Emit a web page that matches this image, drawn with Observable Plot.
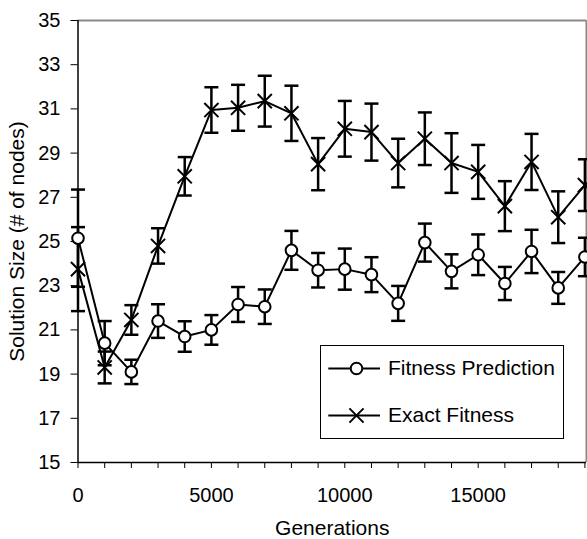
<!DOCTYPE html>
<html><head><meta charset="utf-8">
<script src="https://cdn.jsdelivr.net/npm/d3@7"></script>
<script src="https://cdn.jsdelivr.net/npm/@observablehq/plot@0.6"></script>
<style>
html,body{margin:0;padding:0;background:#fff;}
#wrap{position:relative;width:587px;height:539px;font-family:"Liberation Sans",Arial,sans-serif;}
#legend{position:absolute;left:320px;top:345px;width:244px;height:94px;box-sizing:border-box;border:1px solid #000;background:#fff;}
.row{position:absolute;left:0;width:240px;height:30px;}
.row svg{position:absolute;left:0;top:0;}
.row span{position:absolute;left:67px;top:0;line-height:30px;font-size:21px;color:#000;white-space:nowrap;}
</style></head><body><div id="wrap"></div>
<script>
const generations = [0,1000,2000,3000,4000,5000,6000,7000,8000,9000,10000,11000,12000,13000,14000,15000,16000,17000,18000,19000];
const predMean  = [25.15,20.4,19.1,21.4,20.7,21.0,22.15,22.05,24.6,23.7,23.75,23.5,22.2,24.95,23.65,24.4,23.1,24.55,22.9,24.3];
const predErr   = [2.2,1.0,0.55,0.76,0.69,0.67,0.79,0.78,0.88,0.78,0.93,0.79,0.79,0.86,0.77,0.92,0.75,0.98,0.72,0.87];
const exactMean = [23.75,19.3,21.45,24.8,27.95,30.95,31.05,31.35,30.8,28.5,30.1,29.95,28.55,29.65,28.55,28.15,26.6,28.6,26.1,27.55];
const exactErr  = [1.9,0.72,0.67,0.8,0.87,1.03,1.04,1.15,1.25,1.18,1.26,1.29,1.1,1.19,1.35,1.22,1.13,1.27,1.17,1.17];
const seriesNames = ["Fitness Prediction","Exact Fitness"];
const yTicks = [15,17,19,21,23,25,27,29,31,33,35];
const xLabelTicks = [0,5000,10000,15000];
const xMinorTicks = generations;
const xDomain = [0,19060];
const yDomain = [15,35];
const xTitle = "Generations";
const yTitle = "Solution Size (# of nodes)";

const pred = generations.map((g,i)=>({series:seriesNames[0], g, v:predMean[i], e:predErr[i]}));
const exact = generations.map((g,i)=>({series:seriesNames[1], g, v:exactMean[i], e:exactErr[i]}));
const rows = pred.concat(exact);

const capSymbol = {draw(ctx){ ctx.moveTo(-7,0); ctx.lineTo(7,0); }};
const font = "'Liberation Sans', Arial, sans-serif";

const chart = Plot.plot({
  width: 587, height: 539,
  marginLeft: 77.5, marginRight: 1, marginTop: 20, marginBottom: 77,
  style: {fontFamily: font, fontSize: "20px", color: "#000", background: "#fff"},
  x: {domain: xDomain},
  y: {domain: yDomain},
  marks: [
    Plot.ruleY([yDomain[1]], {stroke: "#8a8a8a", strokeWidth: 2}),
    Plot.ruleX([xDomain[1]], {stroke: "#8a8a8a", strokeWidth: 2}),
    Plot.ruleX([xDomain[0]], {stroke: "#000", strokeWidth: 1.5}),
    Plot.ruleY([yDomain[0]], {stroke: "#000", strokeWidth: 1.5}),
    Plot.axisY({ticks: yTicks, tickSize: 7, tickPadding: 10.5, fontSize: 20, label: null, stroke: "#000"}),
    Plot.axisX({ticks: xMinorTicks, tickSize: 6, tickFormat: () => "", label: null, stroke: "#000"}),
    Plot.axisX({ticks: xLabelTicks, tickSize: 0, tickPadding: 24.8, fontSize: 20, label: null, tickFormat: d3.format("d")}),
    Plot.text([xTitle], {frameAnchor: "bottom", textAnchor: "middle", lineAnchor: "bottom", dy: 72.5, fontSize: 21, fill: "#000"}),
    Plot.text([yTitle], {frameAnchor: "left", textAnchor: "middle", lineAnchor: "middle", rotate: -90, dx: -61, fontSize: 21, fill: "#000"}),
    Plot.line(rows, {x: "g", y: "v", z: "series", stroke: "#000", strokeWidth: 2}),
    Plot.ruleX(rows, {x: "g", y1: d => d.v - d.e, y2: d => d.v + d.e, stroke: "#000", strokeWidth: 2.5}),
    Plot.dot(rows, {x: "g", y: d => d.v + d.e, symbol: capSymbol, r: 5, fill: "none", stroke: "#000", strokeWidth: 2.5}),
    Plot.dot(rows, {x: "g", y: d => d.v - d.e, symbol: capSymbol, r: 5, fill: "none", stroke: "#000", strokeWidth: 2.5}),
    Plot.dot(exact, {x: "g", y: "v", symbol: "times", r: 6.5, stroke: "#000", strokeWidth: 2}),
    Plot.dot(pred, {x: "g", y: "v", symbol: "circle", r: 5.8, fill: "#fff", stroke: "#000", strokeWidth: 2})
  ]
});
const wrap = document.getElementById("wrap");
wrap.appendChild(chart);

const legend = document.createElement("div");
legend.id = "legend";
const symbols = ["circle","times"];
const rowCenters = [22.3, 69];
seriesNames.forEach((name, i) => {
  const row = document.createElement("div");
  row.className = "row";
  row.style.top = (rowCenters[i] - 15) + "px";
  const sw = Plot.plot({
    width: 62, height: 30, margin: 0,
    x: {domain: [0, 62], axis: null}, y: {domain: [0, 30], axis: null},
    marks: [
      Plot.ruleY([15], {x1: 7.3, x2: 59, stroke: "#000", strokeWidth: 2}),
      Plot.dot([{x: 35, y: 15}], {x: "x", y: "y", symbol: symbols[i], r: symbols[i] === "circle" ? 5.8 : 6.5, fill: symbols[i] === "circle" ? "#fff" : "none", stroke: "#000", strokeWidth: 2})
    ]
  });
  row.appendChild(sw);
  const t = document.createElement("span");
  t.textContent = name;
  row.appendChild(t);
  legend.appendChild(row);
});
wrap.appendChild(legend);
</script>
</body></html>
